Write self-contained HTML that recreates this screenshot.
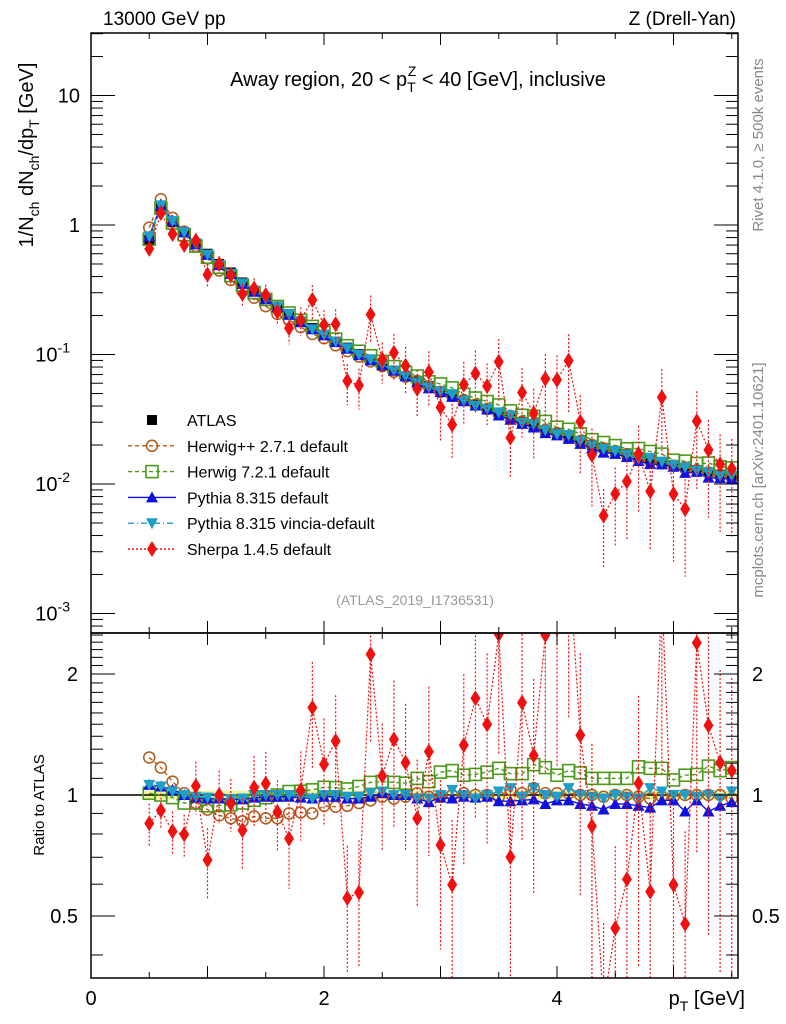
<!DOCTYPE html>
<html><head><meta charset="utf-8">
<style>
html,body{margin:0;padding:0;background:#fff;width:786px;height:1024px;overflow:hidden;}
svg{display:block;font-family:"Liberation Sans",Arial,sans-serif;}
</style></head>
<body>
<svg id="chart" width="786" height="1024" viewBox="0 0 786 1024" xmlns="http://www.w3.org/2000/svg">
<text x="103" y="25" font-size="19">13000 GeV pp</text>
<text x="736" y="25" font-size="19" text-anchor="end">Z (Drell-Yan)</text>
<text x="418" y="86" font-size="20" text-anchor="middle">Away region, 20 &lt; p<tspan font-size="14" dy="6">T</tspan><tspan font-size="14" dx="-8" dy="-16">Z</tspan><tspan dy="10"> &lt; 40 [GeV], inclusive</tspan></text>
<text transform="translate(33,155) rotate(-90)" font-size="20" text-anchor="middle">1/N<tspan font-size="14" dy="6">ch</tspan><tspan dy="-6"> dN</tspan><tspan font-size="14" dy="6">ch</tspan><tspan dy="-6">/dp</tspan><tspan font-size="14" dy="6">T</tspan><tspan dy="-6"> [GeV]</tspan></text>
<text transform="translate(763,145) rotate(-90)" font-size="15" fill="#888" text-anchor="middle">Rivet 4.1.0, ≥ 500k events</text>
<text transform="translate(763,480) rotate(-90)" font-size="15" fill="#888" text-anchor="middle">mcplots.cern.ch [arXiv:2401.10621]</text>
<text x="415" y="605" font-size="14" fill="#999" text-anchor="middle">(ATLAS_2019_I1736531)</text>
<text transform="translate(44,805) rotate(-90)" font-size="15" text-anchor="middle">Ratio to ATLAS</text>
<text x="745" y="1005" font-size="20" text-anchor="end">p<tspan font-size="14" dy="6">T</tspan><tspan dy="-6"> [GeV]</tspan></text>
<g id="marks"></g>
</svg>
<script>
const pT = [0.5,0.6,0.7,0.8,0.9,1.0,1.1,1.2,1.3,1.4,1.5,1.6,1.7,1.8,1.9,2.0,2.1,2.2,2.3,2.4,2.5,2.6,2.7,2.8,2.9,3.0,3.1,3.2,3.3,3.4,3.5,3.6,3.7,3.8,3.9,4.0,4.1,4.2,4.3,4.4,4.5,4.6,4.7,4.8,4.9,5.0,5.1,5.2,5.3,5.4,5.5];
const atlas = [0.77,1.35,1.05,0.88,0.72,0.60,0.50,0.43,0.36,0.31,0.27,0.235,0.205,0.18,0.16,0.142,0.126,0.113,0.101,0.091,0.082,0.075,0.068,0.062,0.057,0.052,0.048,0.044,0.041,0.038,0.035,0.0325,0.030,0.028,0.026,0.0245,0.023,0.0215,0.020,0.019,0.018,0.017,0.016,0.0153,0.0146,0.014,0.0134,0.0128,0.0123,0.0118,0.0114];
const herwigpp = [1.24,1.17,1.08,1.01,0.955,0.92,0.89,0.875,0.86,0.885,0.875,0.875,0.90,0.905,0.90,0.94,0.935,0.94,0.955,0.97,0.99,0.98,0.99,1.01,0.99,0.99,1.0,1.01,1.0,1.0,0.99,1.03,1.01,1.04,1.01,1.01,1.01,1.0,1.0,0.99,1.0,1.0,0.99,0.98,0.99,0.99,1.0,1.0,1.0,1.0,0.98];
const herwig7 = [1.01,1.0,0.985,0.955,0.955,0.94,0.942,0.945,0.955,0.97,0.985,1.0,1.02,1.022,1.03,1.045,1.043,1.035,1.05,1.075,1.08,1.075,1.07,1.10,1.08,1.14,1.15,1.12,1.125,1.14,1.165,1.13,1.13,1.19,1.17,1.12,1.15,1.135,1.10,1.10,1.10,1.10,1.175,1.165,1.165,1.09,1.12,1.125,1.18,1.15,1.17];
const pythia = [1.06,1.05,1.03,1.0,0.985,0.98,0.98,0.975,0.975,0.985,0.99,0.99,0.99,0.985,0.98,0.99,0.99,0.98,0.98,0.99,1.01,1.0,1.0,0.98,0.96,0.985,0.98,0.99,0.985,0.99,0.965,0.965,0.97,0.975,0.95,0.97,0.97,0.95,0.94,0.92,0.95,0.95,0.94,0.93,0.97,0.97,0.91,0.97,0.91,0.94,0.96];
const vincia = [1.06,1.05,1.02,1.0,0.99,0.985,0.98,0.975,0.98,1.0,1.0,1.0,1.0,0.995,0.98,1.0,1.0,0.99,0.99,1.01,1.02,1.0,1.0,0.98,0.98,1.0,1.03,1.0,0.98,1.0,1.02,1.04,0.99,1.04,1.0,0.99,1.04,1.0,0.99,0.98,1.0,0.99,0.98,1.04,1.02,1.0,1.0,0.99,1.0,0.98,1.02];
const sherpa = [0.85,0.916,0.812,0.798,1.053,0.689,1.0,0.953,0.817,1.043,1.067,0.907,0.779,1.027,1.649,1.192,1.362,0.554,0.572,2.24,1.115,1.375,1.204,0.875,1.282,0.751,0.598,1.331,1.741,1.499,2.51,0.701,1.697,1.255,2.5,2.6,3.9,1.408,0.837,0.3,0.466,0.617,1.069,0.575,3.2,0.598,0.478,2.39,1.49,1.204,1.15];
const sherpaErr = [0.12,0.1,0.12,0.12,0.15,0.2,0.15,0.15,0.2,0.2,0.2,0.2,0.25,0.25,0.3,0.3,0.3,0.35,0.35,0.4,0.35,0.4,0.4,0.4,0.45,0.45,0.45,0.5,0.5,0.5,0.5,0.5,0.55,0.55,0.55,0.55,0.6,0.6,0.6,0.6,0.6,0.65,0.65,0.65,0.65,0.7,0.7,0.7,0.7,0.7,0.7];
const xTicks = [0,2,4];
const mainTicks = [["10",1],["1",0],["10","-1"],["10","-2"],["10","-3"]];
const ratioTicks = [["2",2],["1",1],["0.5",0.5]];

const NS="http://www.w3.org/2000/svg";
const svg=document.getElementById('chart');
const L=91,R=738,T=33,M=633,B=978;
const X=v=>91+116.5*v;
const YM=v=>225-129.5*Math.log10(v);
const YR=v=>795-402*Math.log10(v);
function el(tag,attrs,parent){const e=document.createElementNS(NS,tag);for(const k in attrs)e.setAttribute(k,attrs[k]);(parent||svg).appendChild(e);return e;}

const defs=el('defs',{});
const c1=el('clipPath',{id:'cm'},defs);el('rect',{x:L,y:T,width:R-L,height:M-T},c1);
const c2=el('clipPath',{id:'cr'},defs);el('rect',{x:L,y:M,width:R-L,height:B-M},c2);

const band=el('rect',{x:X(0.45),y:YR(1.025),width:X(5.55)-X(0.45),height:YR(0.975)-YR(1.025),fill:'#f2f59a'});


const one=el('line',{x1:L,x2:R,y1:YR(1),y2:YR(1),stroke:'#000','stroke-width':1.5});



function marker(g,type,cx,cy,color){
  let m;
  if(type==='sq')m=el('rect',{x:cx-5,y:cy-5,width:10,height:10,fill:'#000'},g);
  else if(type==='circ')m=el('circle',{cx,cy,r:5.5,fill:'none',stroke:color,'stroke-width':1.5},g);
  else if(type==='osq')m=el('rect',{x:cx-6,y:cy-6,width:12,height:12,fill:'none',stroke:color,'stroke-width':1.6},g);
  else if(type==='tri')m=el('polygon',{points:`${cx},${cy-6} ${cx-6},${cy+5} ${cx+6},${cy+5}`,fill:color},g);
  else if(type==='dtri')m=el('polygon',{points:`${cx},${cy+6} ${cx-6},${cy-5} ${cx+6},${cy-5}`,fill:color},g);
  else if(type==='dia')m=el('polygon',{points:`${cx},${cy-8} ${cx-5},${cy} ${cx},${cy+8} ${cx+5},${cy}`,fill:color},g);
  return m;
}
const series=[
 {name:'herwigpp',r:herwigpp,type:'circ',color:'#b35a1a',dash:'4,3'},
 {name:'herwig7',r:herwig7,type:'osq',color:'#4c9a1a',dash:'4,3'},
 {name:'pythia',r:pythia,type:'tri',color:'#1010e0',dash:''},
 {name:'vincia',r:vincia,type:'dtri',color:'#1e9ec8',dash:'6,3,1,3'},
 {name:'sherpa',r:sherpa,type:'dia',color:'#f01010',dash:'2,2'}
];
function drawPanel(clip,Y,isRatio){
  const g=el('g',{'clip-path':`url(#${clip})`});
  
  
  if(!isRatio){
    pT.forEach((p,i)=>{const m=marker(g,'sq',X(p),Y(atlas[i]));
      
      });
  }
  series.forEach(s=>{
    const val=i=>isRatio?s.r[i]:s.r[i]*atlas[i];
    const pts=pT.map((p,i)=>`${X(p)},${Y(val(i))}`).join(' ');
    const line=el('polyline',{points:pts,fill:'none',stroke:s.color,'stroke-width':s.name==='sherpa'?1.2:1.4,'stroke-dasharray':s.dash},g);
    
    
    pT.forEach((p,i)=>{
      if(s.name==='sherpa'){
        const e=sherpaErr[i];
        const v=val(i);
        const eb=el('line',{x1:X(p),x2:X(p),y1:Y(v*(1+e)),y2:Y(Math.max(v*(1-e),1e-6)),stroke:s.color,'stroke-width':1.2,'stroke-dasharray':'2,2'},g);
        
        
      }
      const m=marker(g,s.type,X(p),Y(val(i)),s.color);
      
      
    });
  });
}
drawPanel('cm',YM,false);
drawPanel('cr',YR,true);

const f1=el('rect',{x:L,y:T,width:R-L,height:M-T,fill:'none',stroke:'#000','stroke-width':1.5});


const f2=el('rect',{x:L,y:M,width:R-L,height:B-M,fill:'none',stroke:'#000','stroke-width':1.5});



for(let k=0;k<=11;k++){
  const v=k*0.5,x=X(v);if(x>R)break;
  const len=(k%2===0)?12:6;
  [[T,1],[M,-1],[M,1],[B,-1]].forEach(([y0,d])=>{
    const t=el('line',{x1:x,x2:x,y1:y0,y2:y0+d*len,stroke:'#000','stroke-width':1});
    
    
  });
}
xTicks.forEach(v=>{
  const t=el('text',{x:X(v),y:1005,'font-size':20,'text-anchor':'middle'});t.textContent=v;
  
  
});
for(let d=-4;d<=1;d++){
  for(let m=1;m<=9;m++){
    const v=m*Math.pow(10,d),y=YM(v);if(y<T||y>M)continue;
    const len=m===1?24:12;
    [[L,1],[R,-1]].forEach(([x0,dd])=>{
      const t=el('line',{x1:x0,x2:x0+dd*len,y1:y,y2:y,stroke:'#000','stroke-width':1});
      
      
    });
  }
}
mainTicks.forEach(([b,e])=>{
  const v=Math.pow(10,Number(e)),y=YM(v)+7;
  const t=el('text',{x:80,y:y,'font-size':20,'text-anchor':'end'});
  
  
  if(Number(e)<0){t.setAttribute('x',70);t.innerHTML=`${b}<tspan font-size="14" dy="-9">${e}</tspan>`;}
  else t.textContent=b;
});
for(let v=0.4;v<=2.5;v=Math.round((v+0.1)*10)/10){
  const y=YR(v);if(y<M||y>B)continue;
  const major=(v===0.5||v===1||v===2);
  const len=major?24:12;
  [[L,1],[R,-1]].forEach(([x0,dd])=>{
    const t=el('line',{x1:x0,x2:x0+dd*len,y1:y,y2:y,stroke:'#000','stroke-width':1});
    
    
  });
}
ratioTicks.forEach(([s,v])=>{
  const y=YR(v)+7;
  const a=el('text',{x:78,y,'font-size':20,'text-anchor':'end'});a.textContent=s;
  
  
  const b=el('text',{x:752,y,'font-size':20,'text-anchor':'start'});b.textContent=s;
  
  
});
const legLabels=['ATLAS','Herwig++ 2.7.1 default','Herwig 7.2.1 default','Pythia 8.315 default','Pythia 8.315 vincia-default','Sherpa 1.4.5 default'];
const lg=el('g',{});


legLabels.forEach((lab,i)=>{
  const y=420+i*25.8;
  const g=el('g',{},lg);
  
  
  if(i===0)marker(g,'sq',152,y);
  else{const s=series[i-1];
    el('line',{x1:128,x2:176,y1:y,y2:y,stroke:s.color,'stroke-width':1.4,'stroke-dasharray':s.dash},g);
    marker(g,s.type,152,y,s.color);}
  const t=el('text',{x:187,y:y+6,'font-size':16},g);t.textContent=lab;
});
</script>
</body></html>
